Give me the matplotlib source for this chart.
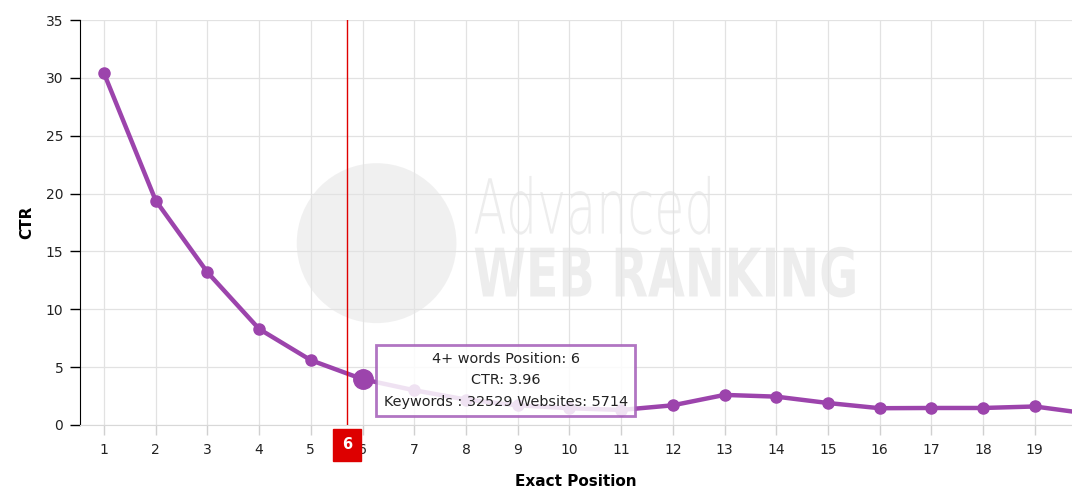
import numpy as np
import matplotlib.pyplot as plt
from matplotlib.transforms import blended_transform_factory, Affine2D
from matplotlib.textpath import TextPath
from matplotlib.patches import PathPatch, Ellipse
from matplotlib.font_manager import FontProperties

# CTR by exact position (4+ words keywords)
positions = np.arange(1, 21)
ctr = [30.4, 19.4, 13.2, 8.3, 5.6, 3.96, 3.0, 2.2, 1.7, 1.45,
       1.3, 1.7, 2.6, 2.45, 1.9, 1.45, 1.47, 1.47, 1.6, 1.0]
y_ticks = [0, 5, 10, 15, 20, 25, 30, 35]

HOVER_POS = 6
CROSSHAIR_X = 5.7
tooltip_lines = ["4+ words Position: 6", "CTR: 3.96", "Keywords : 32529 Websites: 5714"]

LINE_COLOR = '#9c44ac'
WM_COLOR = '#ededed'
plt.rcParams['font.family'] = ['DejaVu Sans']

fig = plt.figure(figsize=(10.72, 4.94), dpi=100)
ax = fig.add_axes([0.0746, 0.1397, 0.9254, 0.8198])


def watermark_text(s, x0, y0, w, h, weight):
    # squeeze text into a box given in axes fraction (cap height h)
    tp = TextPath((0, 0), s, size=1, prop=FontProperties(family='DejaVu Sans', weight=weight))
    bb = tp.get_extents()
    sx = w / bb.width
    sy = h / bb.height
    tr = Affine2D().translate(-bb.x0, -bb.y0).scale(sx, sy).translate(x0, y0) + ax.transAxes
    ax.add_patch(PathPatch(tp, transform=tr, facecolor=WM_COLOR, edgecolor='none', zorder=0))


# watermark
ax.add_patch(Ellipse((0.299, 0.449), 0.161, 0.395, transform=ax.transAxes,
                     facecolor=WM_COLOR, edgecolor='none', alpha=0.8, zorder=0))
watermark_text('Advanced', 0.398, 0.47, 0.237, 0.145, 'light')
watermark_text('WEB RANKING', 0.398, 0.315, 0.383, 0.125, 'bold')

ax.plot(positions, ctr, color=LINE_COLOR, linewidth=3.2, marker='o',
        markersize=8, zorder=3)
i = HOVER_POS - 1
ax.plot(positions[i], ctr[i], 'o', color=LINE_COLOR, markersize=14, zorder=4)

ax.axvline(CROSSHAIR_X, color='#e00000', linewidth=1, zorder=5)

ax.set_xlim(0.536, 19.72)
ax.set_ylim(0, 35)
ax.set_xticks(positions[:19])
ax.set_yticks(y_ticks)
ax.grid(True, color='#e2e2e2', linewidth=0.9)
ax.set_axisbelow(True)

for s in ['top', 'right']:
    ax.spines[s].set_visible(False)
ax.spines['bottom'].set_color('#d8d8d8')
ax.spines['left'].set_color('black')
ax.tick_params(axis='y', length=7, width=1, color='black', labelsize=10,
               pad=5, labelcolor='#222222')
ax.tick_params(axis='x', length=7, width=1, color='#d0d0d0', labelsize=10,
               pad=6, labelcolor='#222222')

ax.set_ylabel('CTR', fontsize=11, fontweight='bold', labelpad=8)
ax.set_xlabel('Exact Position', fontsize=11, fontweight='bold', labelpad=12)

# tooltip
ax.text(8.77, 3.85, "\n".join(tooltip_lines), ha='center', va='center',
        fontsize=10.4, linespacing=1.7, color='#222222', zorder=6,
        bbox=dict(boxstyle='square,pad=0.5', facecolor='white', alpha=0.85,
                  edgecolor='#a45db8', linewidth=2))

# red crosshair label on x axis
trans = blended_transform_factory(ax.transData, ax.transAxes)
ax.annotate(str(HOVER_POS), xy=(CROSSHAIR_X, 0.0), xycoords=trans,
            xytext=(CROSSHAIR_X, -0.049), textcoords=trans,
            ha='center', va='center', color='white', fontsize=10.5,
            fontweight='bold', zorder=7, annotation_clip=False,
            bbox=dict(boxstyle='square,pad=0.6', facecolor='#dd0000',
                      edgecolor='#dd0000'))

fig.savefig('out.png', dpi=100)
